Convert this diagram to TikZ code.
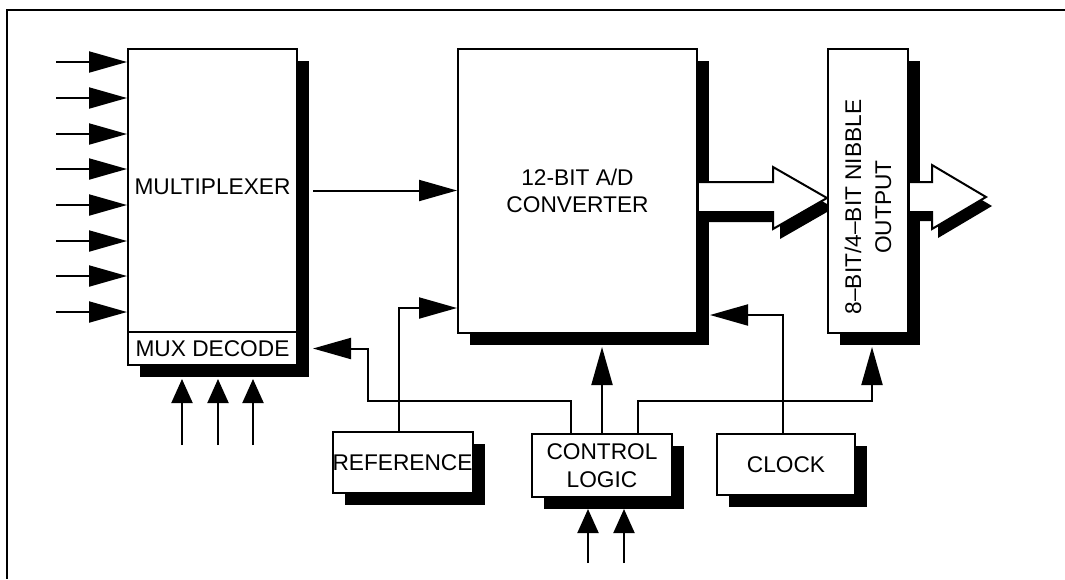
\documentclass[tikz,border=0pt]{standalone}
\usepackage{fontspec}
\usepackage{graphicx}
\setmainfont{Liberation Sans}
\usetikzlibrary{arrows.meta,shadows,calc}
\begin{document}
\begin{tikzpicture}[x=1pt,y=-1pt,
  every node/.style={font=\fontsize{22.7}{28}\selectfont},
  box/.style={draw, line width=2pt, fill=white, inner sep=0pt, align=center,
    general shadow={fill=black, shadow xshift=12pt, shadow yshift=-12pt}},
  arr/.style={line width=2pt, -{Triangle[length=38pt,width=21pt]}},
  sarr/.style={line width=2pt, -{Triangle[length=24pt,width=21pt]}},
  fat/.style={line width=2pt, line join=miter}]
\useasboundingbox (0,0) rectangle (1065,579);
% frame
\draw[line width=1.5pt] (1065,10) -- (7,10) -- (7,579);
% blocks
\node[box, minimum width=169pt, minimum height=283pt] (muxtop) at (212.5,190.5)
  {\raisebox{7pt}{MULTIPLEXER}};
\node[box, minimum width=169pt, minimum height=33pt] (muxdec) at (212.5,348.5) {MUX DECODE};
\node[box, minimum width=239pt, minimum height=284pt] (adc) at (577.5,191) {12-BIT A/D\\[-1pt]CONVERTER};
\node[box, minimum width=140pt, minimum height=63pt] (ctrl) at (602,465.5) {CONTROL\\LOGIC};
\node[box, minimum width=139pt, minimum height=61pt] (ref) at (402.5,462.5) {REFERENCE};
\node[box, minimum width=138pt, minimum height=61pt] (clk) at (786,464.5) {CLOCK};
% fat arrow ADC -> output
\fill[black] (706,192) -- (780,192) -- (780,177) -- (834,208) -- (780,239) -- (780,222) -- (706,222) -- cycle;
\fill[white] (699,182) -- (773,182) -- (773,167) -- (827,198) -- (773,229) -- (773,212) -- (699,212) -- cycle;
\draw[fat] (699,182) -- (773,182) -- (773,167) -- (827,198) -- (773,229) -- (773,212) -- (699,212);
% output block
\node[box, minimum width=80pt, minimum height=284pt] (out) at (868,191) {};
\node[rotate=90, align=center, font=\fontsize{22.7}{30}\selectfont] (outtxt) at (868,207) {8–BIT/4–BIT NIBBLE\\OUTPUT};
% fat arrow out
\fill[black] (916,191) -- (938,191) -- (938,174) -- (992,206) -- (938,238) -- (938,221) -- (916,221) -- cycle;
\fill[white] (910,182) -- (932,182) -- (932,165) -- (986,197) -- (932,229) -- (932,212) -- (910,212) -- cycle;
\draw[fat] (910,182) -- (932,182) -- (932,165) -- (986,197) -- (932,229) -- (932,212) -- (910,212);
% multiplexer inputs
\foreach \i/\y in {1/62,2/98,3/134,4/169,5/205,6/241,7/276,8/312}{
  \coordinate (in\i) at (56,\y);
  \draw[arr] (in\i) -- (in\i -| muxtop.west);
}
% mux decode inputs
\foreach \i/\x in {1/182,2/218,3/253}{
  \coordinate (d\i) at (\x,445);
  \draw[sarr] (d\i) -- ($(d\i |- muxdec.south)+(0,13)$);
}
% control logic inputs
\foreach \i/\x in {1/588,2/624}{
  \coordinate (c\i) at (\x,563);
  \draw[sarr] (c\i) -- ($(c\i |- ctrl.south)+(0,11)$);
}
% connectors
\draw[arr] ($(muxtop.east)+(15,0)$) -- (muxtop.east -| adc.west);
\draw[arr] ($(ref.north)+(-4,0)$) |- ($(adc.west)+(0,117)$);
\draw[arr] ($(clk.north)+(-3,0)$) |- ($(adc.east)+(12,124)$);
\draw[arr] (ctrl.north) -- ($(ctrl.north |- adc.south)+(0,13)$);
\draw[arr] ($(ctrl.north)+(-31,0)$) -- ++(0,-32) -- ++(-203,0) |- ($(muxdec.east)+(15,0)$);
\draw[arr] ($(ctrl.north)+(36,0)$) -- ++(0,-32) -| ($(out.south)+(4,13)$);
\end{tikzpicture}
\end{document}
